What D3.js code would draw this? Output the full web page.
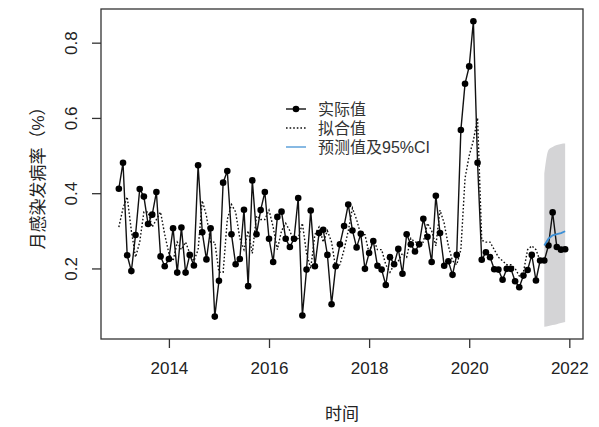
<!DOCTYPE html>
<html>
<head>
<meta charset="utf-8">
<script src="https://cdn.jsdelivr.net/npm/d3@7"></script>
<style>
  html, body { margin: 0; padding: 0; background: #fff; }
  svg { display: block; font-family: "Liberation Sans", Arial, "Noto Sans CJK SC", sans-serif; }
</style>
</head>
<body>
<svg id="chart" width="599" height="427"></svg>
<script>
// Monthly observed incidence (%), Jan 2013 – Dec 2021
const startYear = 2013;
const actual = [
  0.412, 0.481, 0.235, 0.193, 0.289, 0.411, 0.391, 0.318, 0.343, 0.403, 0.232, 0.206,
  0.225, 0.307, 0.189, 0.309, 0.189, 0.236, 0.208, 0.474, 0.296, 0.224, 0.307, 0.072,
  0.167, 0.428, 0.459, 0.291, 0.211, 0.225, 0.356, 0.153, 0.434, 0.291, 0.355, 0.403,
  0.279, 0.217, 0.337, 0.351, 0.279, 0.257, 0.279, 0.387, 0.075, 0.197, 0.354, 0.206,
  0.294, 0.303, 0.236, 0.105, 0.206, 0.264, 0.313, 0.370, 0.301, 0.256, 0.292, 0.199,
  0.241, 0.273, 0.207, 0.197, 0.156, 0.230, 0.211, 0.252, 0.186, 0.291, 0.264, 0.245,
  0.264, 0.332, 0.284, 0.217, 0.393, 0.294, 0.207, 0.219, 0.183, 0.236, 0.568, 0.691,
  0.737, 0.857, 0.481, 0.223, 0.243, 0.230, 0.198, 0.197, 0.170, 0.199, 0.199, 0.166,
  0.150, 0.181, 0.196, 0.236, 0.168, 0.221, 0.221, 0.261, 0.349, 0.257, 0.250, 0.251
];

// Model fitted values, Jan 2013 – Jun 2021
const fitted = [
  0.31, 0.36, 0.39, 0.30, 0.23, 0.27, 0.35, 0.35, 0.31, 0.33, 0.35, 0.29,
  0.24, 0.22, 0.27, 0.25, 0.27, 0.24, 0.22, 0.25, 0.38, 0.34, 0.27, 0.27,
  0.19, 0.19, 0.33, 0.37, 0.35, 0.28, 0.25, 0.30, 0.24, 0.34, 0.33, 0.33,
  0.355, 0.31, 0.25, 0.30, 0.32, 0.30, 0.27, 0.28, 0.32, 0.24, 0.20, 0.29,
  0.31, 0.27, 0.30, 0.27, 0.20, 0.21, 0.25, 0.30, 0.36, 0.33, 0.29, 0.29,
  0.24, 0.28, 0.25, 0.25, 0.21, 0.19, 0.21, 0.22, 0.24, 0.23, 0.28, 0.27,
  0.27, 0.27, 0.32, 0.30, 0.26, 0.355, 0.32, 0.26, 0.22, 0.21, 0.25, 0.44,
  0.50, 0.54, 0.60, 0.275, 0.27, 0.27, 0.25, 0.23, 0.22, 0.21, 0.21, 0.20,
  0.18, 0.19, 0.25, 0.26, 0.25, 0.22
];

// Forecast, Jul – Dec 2021, with 95% interval
const forecastStart = 2021 + 6 / 12;
const forecast = [0.261, 0.279, 0.288, 0.291, 0.294, 0.299];
const lower95 = [0.045, 0.047, 0.050, 0.052, 0.055, 0.058];
const upper95 = [0.452, 0.515, 0.523, 0.528, 0.531, 0.532];

const xTicks = [2014, 2016, 2018, 2020, 2022];
const yTicks = [0.2, 0.4, 0.6, 0.8];
const legendLabels = ["实际值", "拟合值", "预测值及95%CI"];
const xTitle = "时间";
const yTitle = "月感染发病率（%）";

const svg = d3.select("#chart");
const plot = { left: 101, right: 583, top: 9, bottom: 339 };

const actualPts = actual.map((v, i) => ({ t: startYear + i / 12, v }));
const fittedPts = fitted.map((v, i) => ({ t: startYear + i / 12, v }));
const fcPts = forecast.map((v, i) => ({ t: forecastStart + i / 12, v, lo: lower95[i], hi: upper95[i] }));

// R-style 4% padding around the data range
const tExt = d3.extent(actualPts, d => d.t);
const tPad = (tExt[1] - tExt[0]) * 0.04;
const vMin = d3.min([d3.min(actual), d3.min(lower95)]);
const vMax = d3.max([d3.max(actual), d3.max(upper95)]);
const vPad = (vMax - vMin) * 0.04;

const x = d3.scaleLinear().domain([tExt[0] - tPad, tExt[1] + tPad]).range([plot.left, plot.right]);
const y = d3.scaleLinear().domain([vMin - vPad, vMax + vPad]).range([plot.bottom, plot.top]);

// 95% interval band
svg.append("path")
  .datum(fcPts)
  .attr("fill", "#d4d4d6")
  .attr("stroke", "none")
  .attr("d", d3.area().x(d => x(d.t)).y0(d => y(d.lo)).y1(d => y(d.hi)).curve(d3.curveMonotoneX));

const line = d3.line().x(d => x(d.t)).y(d => y(d.v));

// Fitted values (dotted)
svg.append("path")
  .datum(fittedPts)
  .attr("fill", "none")
  .attr("stroke", "#111")
  .attr("stroke-width", 1.4)
  .attr("stroke-dasharray", "1.6,2")
  .attr("d", line);

// Observed series: line with points
svg.append("path")
  .datum(actualPts)
  .attr("fill", "none")
  .attr("stroke", "#111")
  .attr("stroke-width", 1.4)
  .attr("d", line);

svg.append("g").selectAll("circle")
  .data(actualPts)
  .join("circle")
  .attr("cx", d => x(d.t))
  .attr("cy", d => y(d.v))
  .attr("r", 3.3)
  .attr("fill", "#000");

// Forecast line
svg.append("path")
  .datum(fcPts)
  .attr("fill", "none")
  .attr("stroke", "#3b8fd6")
  .attr("stroke-width", 1.8)
  .attr("d", line);

// Axes
const axisColor = "#333";
const xAxis = svg.append("g")
  .attr("transform", `translate(0,${plot.bottom})`)
  .call(d3.axisBottom(x).tickValues(xTicks).tickFormat(d3.format("d")).tickSize(9).tickPadding(14));
const yAxis = svg.append("g")
  .attr("transform", `translate(${plot.left},0)`)
  .call(d3.axisLeft(y).tickValues(yTicks).tickFormat(d3.format(".1f")).tickSize(9).tickPadding(0));

[xAxis, yAxis].forEach(g => {
  g.select(".domain").remove();
  g.selectAll("line").attr("stroke", axisColor).attr("stroke-width", 1.3);
  g.selectAll("text").attr("fill", "#222").style("font-size", "17px");
});

yAxis.selectAll(".tick text")
  .attr("text-anchor", "middle")
  .attr("dy", null)
  .attr("x", null)
  .attr("transform", "translate(-30,0) rotate(-90)")
  .attr("dominant-baseline", "central");

// Plot frame
svg.append("rect")
  .attr("x", plot.left).attr("y", plot.top)
  .attr("width", plot.right - plot.left).attr("height", plot.bottom - plot.top)
  .attr("fill", "none").attr("stroke", axisColor).attr("stroke-width", 1.3);

// Axis titles
svg.append("text")
  .attr("x", (plot.left + plot.right) / 2).attr("y", 414)
  .attr("text-anchor", "middle").attr("dominant-baseline", "central")
  .attr("fill", "#222").style("font-size", "17px")
  .text(xTitle);

svg.append("text")
  .attr("transform", `translate(38,${(plot.top + plot.bottom) / 2}) rotate(-90)`)
  .attr("text-anchor", "middle").attr("dominant-baseline", "central")
  .attr("fill", "#222").style("font-size", "17px")
  .text(yTitle);

// Legend
const legend = svg.append("g").attr("transform", "translate(286,109)");
const rowH = 19;
legendLabels.forEach((lab, i) => {
  const g = legend.append("g").attr("transform", `translate(0,${i * rowH})`);
  const l = g.append("line").attr("x1", 0).attr("x2", 20).attr("y1", 0).attr("y2", 0)
    .attr("stroke-width", i === 2 ? 1.6 : 1.4);
  if (i === 0) {
    l.attr("stroke", "#111");
    g.append("circle").attr("cx", 10).attr("cy", 0).attr("r", 3.3).attr("fill", "#000");
  } else if (i === 1) {
    l.attr("stroke", "#111").attr("stroke-dasharray", "1.6,2");
  } else {
    l.attr("stroke", "#6aa8dc");
  }
  g.append("text").attr("x", 32).attr("y", 0)
    .attr("dominant-baseline", "central")
    .attr("fill", "#333").style("font-size", "16px")
    .text(lab);
});
</script>
</body>
</html>
